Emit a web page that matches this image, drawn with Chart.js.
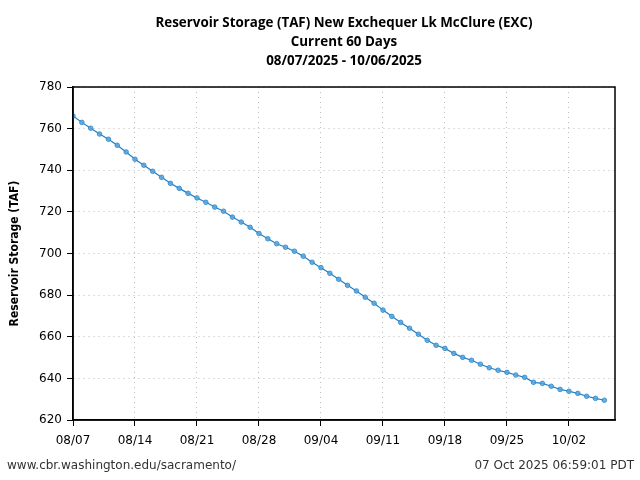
<!DOCTYPE html>
<html>
<head>
<meta charset="utf-8">
<script src="https://cdn.jsdelivr.net/npm/chart.js@4"></script>
<style>
html,body{margin:0;padding:0;background:#fff;}
#wrap{width:640px;height:480px;position:relative;}
</style>
</head>
<body>
<div id="wrap"><canvas id="c" width="640" height="480"></canvas></div>
<script>
const titleLines = ["Reservoir Storage (TAF) New Exchequer Lk McClure (EXC)", "Current 60 Days", "08/07/2025 - 10/06/2025"];
const yAxisTitle = "Reservoir Storage (TAF)";
const footerLeft = "www.cbr.washington.edu/sacramento/";
const footerRight = "07 Oct 2025 06:59:01 PDT";
const xTickDays = [0, 7, 14, 21, 28, 35, 42, 49, 56];
const xTickLabels = ["08/07", "08/14", "08/21", "08/28", "09/04", "09/11", "09/18", "09/25", "10/02"];
const dayIndex = [0,1,2,3,4,5,6,7,8,9,10,11,12,13,14,15,16,17,18,19,20,21,22,23,24,25,26,27,28,29,30,31,32,33,34,35,36,37,38,39,40,41,42,43,44,45,46,47,48,49,50,51,52,53,54,55,56,57,58,59,60];
const storage = [766.1,763.0,760.2,757.4,754.9,752.0,748.8,745.3,742.4,739.5,736.6,733.7,731.3,728.9,726.7,724.6,722.3,720.3,717.5,715.1,712.6,709.6,707.1,704.7,703.0,701.1,698.7,695.8,693.2,690.5,687.6,684.7,682.0,679.0,676.1,672.8,669.8,666.9,664.1,661.2,658.3,655.9,654.4,652.0,650.1,648.7,646.8,645.1,643.9,642.9,641.6,640.5,638.1,637.6,636.2,634.7,633.8,632.8,631.4,630.4,629.5];
const yMin = 620, yMax = 780, yStep = 20;
const xMin = 0, xMax = 61.2;

const points = dayIndex.map((d, i) => ({x: d, y: storage[i]}));

const decor = {
  id: 'decor',
  afterDraw(chart) {
    const ctx = chart.ctx;
    const a = chart.chartArea;
    ctx.save();
    ctx.strokeStyle = '#000';
    ctx.lineWidth = 1.5;
    ctx.strokeRect(a.left, a.top, a.right - a.left, a.bottom - a.top);
    ctx.fillStyle = '#000';
    ctx.textAlign = 'center';
    ctx.textBaseline = 'middle';
    ctx.font = 'bold 14px "Open Sans"';
    const cx = (a.left + a.right) / 2;
    const ys = [23, 42, 61];
    const s = 377 / ctx.measureText(titleLines[0]).width;
    titleLines.forEach((t, i) => {
      ctx.save();
      ctx.translate(cx, ys[i]);
      ctx.scale(s, 1);
      ctx.fillText(t, 0, 0);
      ctx.restore();
    });
    ctx.font = '12px "DejaVu Sans"';
    ctx.fillStyle = '#333';
    ctx.textAlign = 'left';
    ctx.fillText(footerLeft, 7, 466);
    ctx.textAlign = 'right';
    ctx.fillText(footerRight, 634, 466);
    ctx.restore();
  }
};

new Chart(document.getElementById('c'), {
  type: 'line',
  data: {
    datasets: [{
      data: points,
      borderColor: '#1f7fc6',
      borderWidth: 1.2,
      backgroundColor: 'rgba(90,165,220,0.75)',
      pointBackgroundColor: 'rgba(90,165,220,0.85)',
      pointBorderColor: '#2a86c8',
      pointBorderWidth: 0.8,
      pointRadius: 2.3,
      tension: 0,
      fill: false
    }]
  },
  options: {
    responsive: false,
    animation: false,
    devicePixelRatio: 1,
    layout: {padding: {top: 87, right: 25, left: 0, bottom: 0}},
    plugins: {legend: {display: false}, tooltip: {enabled: false}, title: {display: false}},
    scales: {
      x: {
        type: 'linear',
        min: xMin, max: xMax,
        afterBuildTicks(scale) { scale.ticks = xTickDays.map(v => ({value: v})); },
        afterFit(scale) { scale.height = 60; },
        ticks: {
          autoSkip: false, maxRotation: 0, padding: 8,
          color: '#000',
          font: {family: 'DejaVu Sans', size: 12},
          callback(v) { const i = xTickDays.indexOf(v); return i >= 0 ? xTickLabels[i] : ''; }
        },
        grid: {color: '#bdbdbd', tickColor: '#000', tickBorderDash: [], tickLength: 6, lineWidth: 1},
        border: {display: true, color: '#000', width: 1.5, dash: [1, 4]}
      },
      y: {
        min: yMin, max: yMax,
        afterFit(scale) { scale.width = 73; },
        ticks: {
          stepSize: yStep, padding: 5, color: '#000',
          font: {family: 'DejaVu Sans', size: 12}
        },
        title: {display: true, text: yAxisTitle, color: '#000', font: {family: 'DejaVu Sans Condensed', weight: 'bold', size: 12}, padding: {top: 8, bottom: 0}},
        grid: {color: '#bdbdbd', tickColor: '#000', tickBorderDash: [], tickLength: 6, lineWidth: 1},
        border: {display: true, color: '#000', width: 1.5, dash: [1, 4]}
      }
    }
  },
  plugins: [decor]
});
</script>
</body>
</html>
